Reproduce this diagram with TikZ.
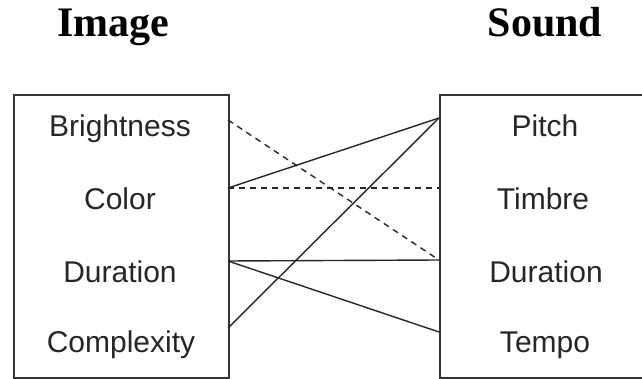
\documentclass[tikz,border=0pt]{standalone}
\usepackage{fontspec}
\setmainfont{Liberation Serif}
\newfontfamily\arialfont{Liberation Sans}
\begin{document}
\begin{tikzpicture}[x=1pt,y=-1pt,
  boxframe/.style={draw=black!80, line width=1.6pt, anchor=north west, inner sep=0pt},
  titletext/.style={anchor=base, font=\fontsize{42}{46}\selectfont\bfseries},
  itemtext/.style={anchor=base, text=black!85, font=\arialfont\fontsize{30}{34}\selectfont},
  solidlink/.style={draw=black!85, line width=1.4pt},
  dashlink/.style={draw=black!85, line width=1.4pt, dash pattern=on 6pt off 5pt}]
\useasboundingbox (0,0) rectangle (642,379);
\clip (0,0) rectangle (642,379);
\node[titletext] (imgtitle) at (113,37) {Image};
\node[titletext] (sndtitle) at (545,37) {Sound};
\node[boxframe, minimum width=215pt, minimum height=283pt] (imgbox) at (13,94) {};
\node[boxframe, minimum width=240pt, minimum height=283pt] (sndbox) at (439,94) {};
\node[itemtext] (bright) at (120,137) {Brightness};
\node[itemtext] (color) at (120,210) {Color};
\node[itemtext] (idur) at (120,282) {Duration};
\node[itemtext] (complex) at (121,352) {Complexity};
\node[itemtext] (pitch) at (545,137) {Pitch};
\node[itemtext] (timbre) at (543,210) {Timbre};
\node[itemtext] (sdur) at (546,282) {Duration};
\node[itemtext] (tempo) at (545,352) {Tempo};
\coordinate (l1) at (228,120);
\coordinate (l2) at (228,188);
\coordinate (l3) at (228,261);
\coordinate (l4) at (228,328);
\coordinate (r1) at (439,118);
\coordinate (r2) at (439,188);
\coordinate (r3) at (439,260);
\coordinate (r4) at (439,332);
\draw[dashlink] (l1) -- (r3);
\draw[dashlink] (l2) -- (r2);
\draw[solidlink] (l2) -- (r1);
\draw[solidlink] (l3) -- (r3);
\draw[solidlink] (l3) -- (r4);
\draw[solidlink] (l4) -- (r1);
\end{tikzpicture}
\end{document}
